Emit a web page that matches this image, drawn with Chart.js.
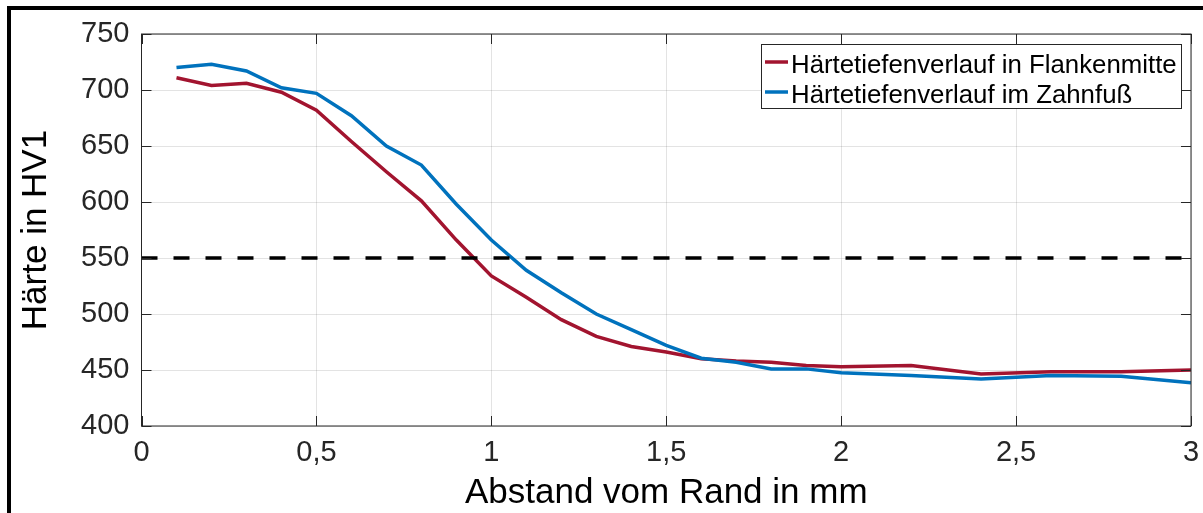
<!DOCTYPE html>
<html>
<head>
<meta charset="utf-8">
<script src="https://cdn.jsdelivr.net/npm/chart.js@4.4.0/dist/chart.umd.min.js"></script>
<style>
    html, body { margin: 0; padding: 0; background: #fff; overflow: hidden; }
    #wrap { position: relative; width: 1203px; height: 513px; }
    #frame {
        position: absolute; left: 7px; top: 6px; width: 1300px; height: 700px;
        border-left: 4px solid #000; border-top: 4px solid #000;
    }
    canvas { position: absolute; left: 0; top: 0; }
</style>
</head>
<body>
<div id="wrap">
    <div id="frame"></div>
    <canvas id="chart" width="1203" height="513"></canvas>
</div>
<script>
const distances = [0.1, 0.2, 0.3, 0.4, 0.5, 0.6, 0.7, 0.8, 0.9, 1.0, 1.1, 1.2, 1.3, 1.4, 1.5, 1.6, 1.7, 1.8, 1.9, 2.0, 2.2, 2.4, 2.6, 2.8, 3.0];
const flankenmitte = [711, 704, 706, 698, 682, 654, 627, 601, 566, 534, 515, 495, 480, 471, 466, 460, 458, 457, 454, 453, 454, 446.5, 448.5, 448.5, 450];
const zahnfuss = [720, 723, 717, 702, 697, 677, 650, 633, 598, 566, 539, 519, 500, 486, 472, 460.5, 457, 451, 451, 447.5, 445, 442, 445, 444.5, 438.5];
const threshold = 550;
const xTicks = [0, 0.5, 1, 1.5, 2, 2.5, 3];
const yTicks = [400, 450, 500, 550, 600, 650, 700, 750];
const seriesLabels = ["Härtetiefenverlauf in Flankenmitte", "Härtetiefenverlauf im Zahnfuß"];
const seriesColors = ["#A2142F", "#0072BD"];

const axisColor = "#262626";
const font = "'Liberation Sans', Arial, sans-serif";

function toPoints(xs, ys) {
    return xs.map((x, i) => ({ x: x, y: ys[i] }));
}

// MATLAB style box with inward ticks
const boxPlugin = {
    id: "box",
    afterDatasetsDraw(chart) {
        const { ctx, chartArea: a, scales } = chart;
        ctx.save();
        ctx.strokeStyle = axisColor;
        ctx.lineWidth = 1;
        ctx.beginPath();
        xTicks.forEach(v => {
            let px = Math.round(scales.x.getPixelForValue(v)) + 0.5;
            ctx.moveTo(px, a.bottom); ctx.lineTo(px, a.bottom - 10);
            ctx.moveTo(px, a.top); ctx.lineTo(px, a.top + 10);
        });
        yTicks.forEach(v => {
            let py = Math.round(scales.y.getPixelForValue(v)) + 0.5;
            ctx.moveTo(a.left, py); ctx.lineTo(a.left + 10, py);
            ctx.moveTo(a.right, py); ctx.lineTo(a.right - 10, py);
        });
        ctx.stroke();
        ctx.strokeRect(a.left, a.top, a.right - a.left, a.bottom - a.top);
        ctx.restore();
    },
    afterDraw(chart) {
        const ctx = chart.ctx;
        const bx = 761, by = 44, bw = 420, bh = 64;
        ctx.save();
        ctx.fillStyle = "#fff";
        ctx.fillRect(bx, by, bw, bh);
        ctx.strokeStyle = axisColor;
        ctx.lineWidth = 1;
        ctx.strokeRect(bx + 0.5, by + 0.5, bw, bh);
        ctx.font = "25.8px " + font;
        ctx.textBaseline = "alphabetic";
        ctx.textAlign = "left";
        seriesLabels.forEach((label, i) => {
            let ly = 62 + i * 30;
            ctx.strokeStyle = seriesColors[i];
            ctx.lineWidth = 3.5;
            ctx.beginPath();
            ctx.moveTo(765, ly); ctx.lineTo(788, ly);
            ctx.stroke();
            ctx.fillStyle = "#000";
            ctx.fillText(label, 791, 73 + i * 30);
        });
        ctx.restore();
    }
};

new Chart(document.getElementById("chart"), {
    type: "scatter",
    data: {
        datasets: [
            {
                label: "550",
                data: [{ x: 0, y: threshold }, { x: 3, y: threshold }],
                showLine: true,
                borderColor: "#000",
                borderWidth: 3.5,
                borderDash: [16, 16],
                pointRadius: 0,
                order: 0
            },
            {
                label: seriesLabels[1],
                data: toPoints(distances, zahnfuss),
                showLine: true,
                borderColor: seriesColors[1],
                borderWidth: 3.5,
                pointRadius: 0,
                order: 1
            },
            {
                label: seriesLabels[0],
                data: toPoints(distances, flankenmitte),
                showLine: true,
                borderColor: seriesColors[0],
                borderWidth: 3.5,
                pointRadius: 0,
                order: 2
            }
        ]
    },
    options: {
        responsive: false,
        animation: false,
        layout: { padding: { left: 0, top: 34, right: 12, bottom: 0 } },
        plugins: { legend: { display: false }, tooltip: { enabled: false } },
        scales: {
            x: {
                type: "linear",
                min: 0,
                max: 3,
                afterFit: s => { s.height = 87; s.paddingLeft = 0; s.paddingRight = 0; },
                afterBuildTicks: s => { s.ticks = xTicks.map(v => ({ value: v })); },
                grid: { color: "rgba(38,38,38,0.13)", drawTicks: false },
                border: { display: false },
                ticks: {
                    autoSkip: false,
                    maxRotation: 0,
                    padding: 10,
                    color: axisColor,
                    font: { family: font, size: 29 },
                    callback: v => String(v).replace(".", ",")
                },
                title: {
                    display: true,
                    text: "Abstand vom Rand in mm",
                    color: "#000",
                    font: { family: font, size: 35, lineHeight: 1 },
                    padding: { top: 0, bottom: 2.5 }
                }
            },
            y: {
                min: 400,
                max: 750,
                afterFit: s => { s.width = 141.5; s.paddingTop = 0; s.paddingBottom = 0; },
                afterBuildTicks: s => { s.ticks = yTicks.map(v => ({ value: v })); },
                grid: { color: "rgba(38,38,38,0.13)", drawTicks: false },
                border: { display: false },
                ticks: {
                    autoSkip: false,
                    padding: 12,
                    color: axisColor,
                    font: { family: font, size: 29 }
                },
                title: {
                    display: true,
                    text: "Härte in HV1",
                    color: "#000",
                    font: { family: font, size: 35, lineHeight: 1 },
                    padding: { top: 18.5, bottom: 0 }
                }
            }
        }
    },
    plugins: [boxPlugin]
});
</script>
</body>
</html>
